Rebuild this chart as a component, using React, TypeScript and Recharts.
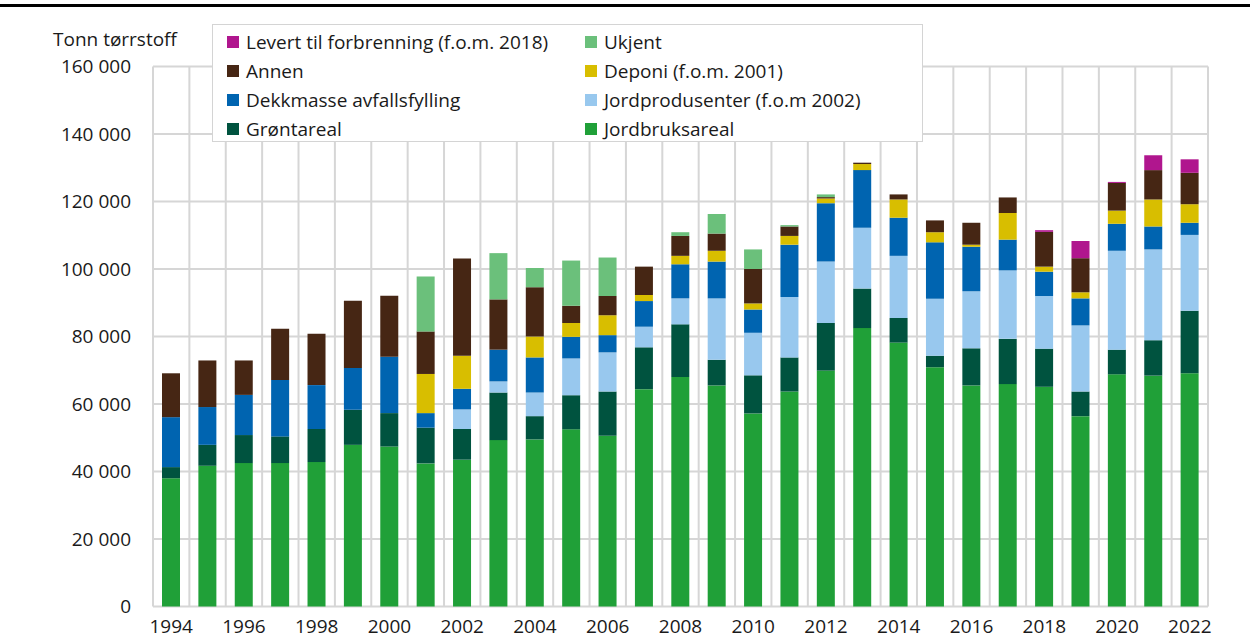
import React from "react";
import { BarChart, Bar, XAxis, YAxis, CartesianGrid, Legend } from "recharts";

const years = [
  "1994", "1995", "1996", "1997", "1998", "1999", "2000", "2001", "2002", "2003",
  "2004", "2005", "2006", "2007", "2008", "2009", "2010", "2011", "2012", "2013",
  "2014", "2015", "2016", "2017", "2018", "2019", "2020", "2021", "2022",
];

const jordbruksareal = [38000, 41700, 42500, 42500, 42800, 47900, 47400, 42400, 43500, 49300, 49500, 52500, 50600, 64400, 68000, 65500, 57200, 63700, 69900, 82500, 78200, 70900, 65500, 65900, 65100, 56400, 68800, 68400, 69100];
const grontareal = [3300, 6200, 8300, 7900, 9800, 10400, 9900, 10600, 9100, 14100, 6900, 10100, 13100, 12400, 15600, 7600, 11300, 10100, 14100, 11700, 7300, 3400, 11000, 13400, 11300, 7300, 7300, 10500, 18500];
const jordprodusenter = [0, 0, 0, 0, 0, 0, 0, 0, 5800, 3300, 7000, 10900, 11600, 6100, 7700, 18200, 12600, 17900, 18200, 18000, 18400, 16900, 16900, 20300, 15600, 19600, 29300, 26900, 22500];
const dekkmasse = [14800, 11200, 11900, 16700, 13000, 12400, 16700, 4300, 6100, 9400, 10400, 6400, 5100, 7600, 10100, 10900, 6900, 15500, 17300, 17100, 11300, 16700, 13200, 9100, 7200, 8000, 8000, 6800, 3600];
const deponi = [0, 0, 0, 0, 0, 0, 0, 11600, 9800, 0, 6200, 4100, 5900, 1800, 2500, 3200, 1800, 2600, 1400, 1800, 5400, 3000, 600, 7900, 1500, 1800, 3900, 8000, 5500];
const annen = [13000, 13800, 10200, 15200, 15200, 19900, 18100, 12600, 28800, 14900, 14600, 5100, 5700, 8400, 5900, 5100, 10200, 2800, 400, 400, 1500, 3500, 6500, 4600, 10300, 10100, 8200, 8700, 9300];
const ukjent = [0, 0, 0, 0, 0, 0, 0, 16300, 0, 13700, 5700, 13400, 11400, 0, 1100, 5800, 5800, 400, 800, 0, 0, 0, 0, 0, 0, 0, 0, 0, 0];
const levert = [0, 0, 0, 0, 0, 0, 0, 0, 0, 0, 0, 0, 0, 0, 0, 0, 0, 0, 0, 0, 0, 0, 0, 0, 500, 5100, 300, 4400, 4000];

const yTicks = [0, 20000, 40000, 60000, 80000, 100000, 120000, 140000, 160000];

const series = [
  { key: "jordbruksareal", name: "Jordbruksareal", values: jordbruksareal, color: "#20A038" },
  { key: "grontareal", name: "Grøntareal", values: grontareal, color: "#00533F" },
  { key: "jordprodusenter", name: "Jordprodusenter (f.o.m 2002)", values: jordprodusenter, color: "#98C8EE" },
  { key: "dekkmasse", name: "Dekkmasse avfallsfylling", values: dekkmasse, color: "#0064B0" },
  { key: "deponi", name: "Deponi (f.o.m. 2001)", values: deponi, color: "#D8BE00" },
  { key: "annen", name: "Annen", values: annen, color: "#462614" },
  { key: "ukjent", name: "Ukjent", values: ukjent, color: "#6BC07B" },
  { key: "levert", name: "Levert til forbrenning (f.o.m. 2018)", values: levert, color: "#B0168E" },
];

const data = years.map((year, i) => {
  const row: Record<string, any> = { year };
  series.forEach((s) => {
    row[s.key] = s.values[i];
  });
  return row;
});

const FONT = "'Open Sans', 'Noto Sans', sans-serif";

const fmt = (v: number) => String(v).replace(/\B(?=(\d{3})+(?!\d))/g, " ");

const LegendBox = () => {
  const items = [...series].reverse();
  return (
    <div
      style={{
        boxSizing: "border-box",
        width: 711,
        height: 118,
        border: "1px solid #d4d4d4",
        background: "#fff",
        paddingTop: 2,
        paddingLeft: 14,
        display: "grid",
        gridTemplateColumns: "358px 1fr",
        gridAutoRows: "29px",
        fontFamily: FONT,
        fontSize: 19,
        color: "#1a1a1a",
      }}
    >
      {items.map((it) => (
        <div key={it.key} style={{ display: "flex", alignItems: "center", whiteSpace: "nowrap" }}>
          <span style={{ display: "inline-block", width: 12, height: 12, background: it.color, marginRight: 7 }} />
          <span>{it.name}</span>
        </div>
      ))}
    </div>
  );
};

export default function App() {
  return (
    <div style={{ position: "absolute", left: 0, top: 0, width: 1250, height: 644, background: "#fff", overflow: "hidden" }}>
      <div style={{ position: "absolute", left: 0, top: 4, width: 1250, height: 3, background: "#000" }} />
      <div
        style={{
          position: "absolute",
          left: 53,
          top: 26,
          fontFamily: FONT,
          fontSize: 19,
          color: "#1a1a1a",
          whiteSpace: "nowrap",
          lineHeight: "26px",
        }}
      >
        Tonn tørrstoff
      </div>
      <BarChart
        width={1250}
        height={644}
        data={data}
        margin={{ top: 66.5, right: 42, bottom: 7.5, left: 73 }}
        barSize={18}
        style={{ position: "absolute", left: 0, top: 0 }}
      >
        <CartesianGrid
          stroke="#d6d6d6"
          strokeWidth={2}
          verticalCoordinatesGenerator={({ offset }: any) =>
            Array.from({ length: years.length + 1 }, (_, i) => offset.left + (i * offset.width) / years.length)
          }
        />
        <XAxis
          dataKey="year"
          interval={1}
          axisLine={false}
          tickLine={false}
          tickSize={0}
          tickMargin={13.5}
          height={30}
          tick={{ fill: "#1a1a1a", fontSize: 19, fontFamily: FONT }}
        />
        <YAxis
          domain={[0, 160000]}
          ticks={yTicks}
          interval={0}
          tickFormatter={fmt}
          axisLine={false}
          tickLine={false}
          tickSize={0}
          tickMargin={22}
          width={80}
          tick={{ fill: "#1a1a1a", fontSize: 19, fontFamily: FONT }}
        />
        <Legend
          layout="vertical"
          align="center"
          verticalAlign="middle"
          content={<LegendBox />}
          wrapperStyle={{ left: 212, top: 24, width: 711, height: 118 }}
        />
        {series.map((s) => (
          <Bar key={s.key} dataKey={s.key} name={s.name} stackId="a" fill={s.color} isAnimationActive={false} />
        ))}
      </BarChart>
    </div>
  );
}
